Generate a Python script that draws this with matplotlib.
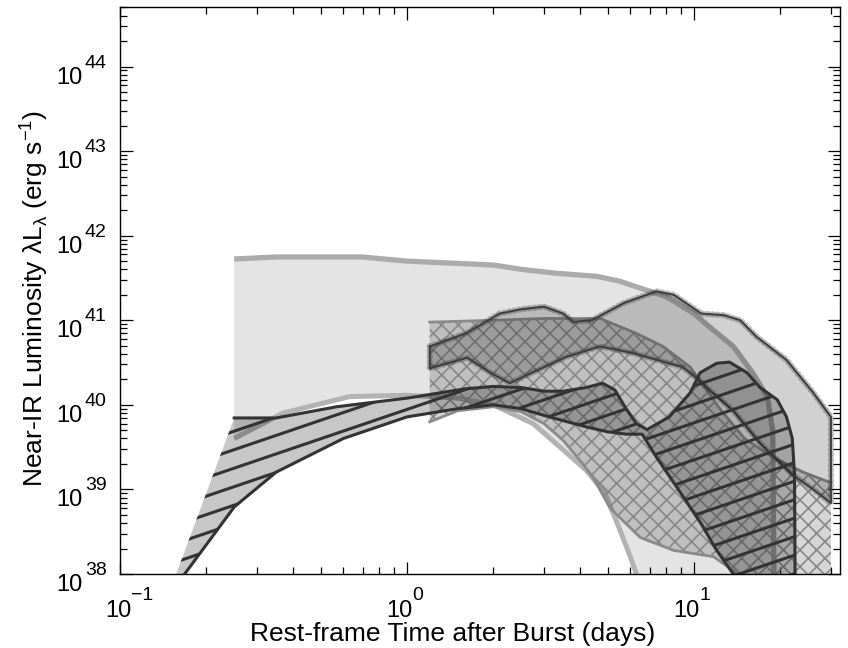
import numpy as np
import matplotlib
matplotlib.use("Agg")
import matplotlib.pyplot as plt
from matplotlib.patches import Polygon
from matplotlib.ticker import FixedLocator, LogLocator, NullFormatter

plt.rcParams['font.family'] = ['Liberation Sans', 'DejaVu Sans']
plt.rcParams['hatch.linewidth'] = 1.2

# ---- light-curve envelopes (rest-frame days, erg/s) ----
# broad light envelope
a_top_t = [0.25, 0.35, 0.7, 1.0, 1.5, 2.0, 2.5, 3.3, 4.6, 5.5, 6.5, 8.0, 10.0, 11.3, 13.7, 16.0, 18.0, 18.8, 19.0]
a_top_l = [5.3e41, 5.6e41, 5.6e41, 5.0e41, 4.7e41, 4.5e41, 4.0e41, 3.6e41, 3.3e41, 2.9e41, 2.4e41, 1.9e41,
           1.2e41, 8.4e40, 4.9e40, 2.4e40, 1.25e40, 5e39, 1e38]
a_low_t = [0.25, 0.37, 0.63, 1.0, 1.5, 2.0, 2.75, 3.4, 4.2, 4.9, 5.4, 6.0, 6.3]
a_low_l = [4e39, 8e39, 1.25e40, 1.3e40, 1.2e40, 1e40, 6e39, 3.2e39, 1.7e39, 9e38, 4e38, 1.6e38, 1e38]

# cross-hatched envelope
c_top_t = [1.2, 2.0, 3.0, 4.7, 6.3, 7.8, 9.7, 12.3, 15.0, 18.8, 24.0, 30.0]
c_top_l = [9.5e40, 1.0e41, 1.05e41, 1.05e41, 7e40, 4.9e40, 2.8e40, 9e39, 4e39, 2.4e39, 1.6e39, 1.2e39]
c_low_t = [1.2, 1.5, 2.0, 2.5, 3.0, 3.5, 4.1, 4.5, 5.1, 6.5, 8.5, 11.7, 13.7, 14.2]
c_low_l = [6.3e39, 8.5e39, 9.5e39, 8.3e39, 6e39, 3.8e39, 2.0e39, 1.3e39, 6e38, 2.7e38, 1.9e38, 1.6e38, 1.1e38, 1e38]

# stippled band
b_up_t = [1.2, 1.62, 2.1, 2.5, 3.0, 3.5, 3.8, 4.4, 5.7, 7.4, 8.5, 10.6, 12.7, 14.5, 16.5, 21.0, 26.0, 30.0]
b_up_l = [4.9e40, 7.1e40, 1.2e41, 1.35e41, 1.45e41, 1.2e41, 9.6e40, 1.0e41, 1.6e41, 2.2e41, 2.0e41, 1.2e41,
          1.15e41, 1.0e41, 6.4e40, 3.4e40, 1.4e40, 7.2e39]
b_low_t = [1.2, 1.62, 1.95, 2.28, 2.8, 3.6, 4.7, 6.1, 9.1, 10.2, 11.3, 13.7, 17.0, 22.0, 26.0, 30.0]
b_low_l = [2.7e40, 3.6e40, 2.4e40, 1.8e40, 2.5e40, 3.7e40, 4.9e40, 4.1e40, 2.8e40, 2.1e40, 1.5e40, 8.5e39,
           3.5e39, 1.5e39, 1.0e39, 6.9e38]

# line-hatched envelope
d_top_t = [0.157, 0.25, 0.35, 0.57, 1.0, 1.6, 2.0, 2.5, 3.0, 3.5, 4.2, 4.8, 5.3, 5.8, 6.3, 6.86, 8.2, 9.7,
           10.5, 12.0, 13.3, 15.3, 17.0, 19.5, 21.0, 22.0, 22.4, 22.5]
d_top_l = [1e38, 7e39, 7e39, 9.5e39, 1.2e40, 1.55e40, 1.65e40, 1.6e40, 1.45e40, 1.45e40, 1.6e40, 1.8e40,
           1.5e40, 9e39, 6e39, 5.1e39, 7.2e39, 1.39e40, 2.4e40, 3.1e40, 3.2e40, 2.4e40, 1.6e40, 1.15e40,
           7.2e39, 4e39, 1.5e39, 1e38]
d_low_t = [0.168, 0.25, 0.35, 0.6, 1.0, 1.5, 2.0, 2.5, 3.0, 3.5, 4.2, 5.0, 5.8, 6.6, 7.4, 8.7, 10.6, 12.0, 13.7]
d_low_l = [1e38, 6.2e38, 1.6e39, 4e39, 7.2e39, 9e39, 1.0e40, 9e39, 7.5e39, 6.5e39, 5.5e39, 4.8e39, 4.5e39,
           4.5e39, 2.4e39, 1.07e39, 3.9e38, 1.9e38, 1e38]

x_ticks = [0.1, 1.0, 10.0]
x_exps = ['\u22121', '0', '1']
y_ticks = [1e38, 1e39, 1e40, 1e41, 1e42, 1e43, 1e44]
y_exps = ['38', '39', '40', '41', '42', '43', '44']

XMIN, XMAX = 0.1, 10 ** 1.507
YMIN, YMAX = 1e38, 10 ** 44.70
PX = 0.72  # points per pixel at 100 dpi
BASE_FS, EXP_FS = 17, 14

fig = plt.figure(figsize=(8.48, 6.48), dpi=100)
ax = fig.add_axes([0.1415, 0.1142, 0.8485, 0.8745])
ax.set_xscale('log')
ax.set_yscale('log')
ax.set_xlim(XMIN, XMAX)
ax.set_ylim(YMIN, YMAX)


def band(xt, yt, xb, yb):
    return list(zip(xt, yt)) + list(zip(xb[::-1], yb[::-1]))


# broad light envelope
poly_a = Polygon(band(a_top_t, a_top_l, a_low_t, a_low_l), closed=True,
                 facecolor='#e4e4e4', edgecolor='none', lw=0, zorder=1)
ax.add_patch(poly_a)
ax.plot(a_top_t, a_top_l, color='#ababab', lw=3.8, solid_capstyle='butt', zorder=2)
ax.plot(a_low_t, a_low_l, color='#b3b3b3', lw=3.6, solid_capstyle='butt', zorder=2)

# cross-hatched envelope
c_verts = band(c_top_t + [c_top_t[-1]], c_top_l + [YMIN], c_low_t, c_low_l)
ax.add_patch(Polygon(c_verts, closed=True, facecolor=(0, 0, 0, 0.16), edgecolor='none', lw=0, zorder=3))
ax.add_patch(Polygon(c_verts, closed=True, facecolor='none', edgecolor='#878787', lw=0, hatch='xx', zorder=3.1))
ax.plot(c_top_t, c_top_l, color='#8a8a8a', lw=2.0, zorder=3.2)
ax.plot(c_low_t, c_low_l, color='#8a8a8a', lw=2.0, zorder=3.2)

# stippled band
b_verts = band(b_up_t, b_up_l, b_low_t, b_low_l)
ax.add_patch(Polygon(b_verts, closed=True, facecolor=(0, 0, 0, 0.18), edgecolor='none', lw=0, zorder=4))
bx = [v[0] for v in b_verts] + [b_verts[0][0]]
by = [v[1] for v in b_verts] + [b_verts[0][1]]
ax.plot(bx, by, color='#3c3c3c', lw=4.5, alpha=0.35, ls=(0, (0.12, 0.7)), dash_capstyle='round', zorder=4.4)
ax.plot(bx, by, color='#3c3c3c', lw=1.4, zorder=4.5)

# line-hatched envelope
d_verts = band(d_top_t, d_top_l, d_low_t, d_low_l)
poly_d = Polygon(d_verts, closed=True, facecolor=(0, 0, 0, 0.22), edgecolor='none', lw=0, zorder=5)
ax.add_patch(poly_d)
slope = 0.34 * (0.8485 * 848) / (0.8745 * 648)
step = 18.5 / (0.8745 * 648)
for y0 in np.arange(-0.6, 1.05, step):
    ln, = ax.plot([0, 1], [y0, y0 + slope], transform=ax.transAxes, color='#333333', lw=2.2, zorder=5.1)
    ln.set_clip_path(poly_d)
ax.plot(d_top_t[1:], d_top_l[1:], color='#333333', lw=2.2, zorder=5.2)
ax.plot(d_low_t, d_low_l, color='#333333', lw=2.2, zorder=5.2)

# axes and ticks
ax.xaxis.set_major_locator(FixedLocator(x_ticks))
ax.yaxis.set_major_locator(FixedLocator(y_ticks))
ax.xaxis.set_major_formatter(NullFormatter())
ax.yaxis.set_major_formatter(NullFormatter())
ax.xaxis.set_minor_locator(LogLocator(base=10, subs=np.arange(2, 10), numticks=20))
ax.yaxis.set_minor_locator(LogLocator(base=10, subs=np.arange(2, 10), numticks=20))
ax.xaxis.set_minor_formatter(NullFormatter())
ax.yaxis.set_minor_formatter(NullFormatter())
ax.tick_params(which='both', direction='in', top=True, right=True, colors='black')
ax.tick_params(which='major', length=9, width=0.9)
ax.tick_params(which='minor', length=5, width=0.9)
for sp in ax.spines.values():
    sp.set_linewidth(1.0)
    sp.set_zorder(10)

# power-of-ten tick labels: "10" with a raised exponent
for v, e in zip(y_ticks, y_exps):
    ax.annotate('10', xy=(0, v), xycoords=('axes fraction', 'data'), xytext=(-37 * PX, -17 * PX),
                textcoords='offset points', ha='right', va='baseline', fontsize=BASE_FS)
    ax.annotate(e, xy=(0, v), xycoords=('axes fraction', 'data'), xytext=(-35 * PX, -1 * PX),
                textcoords='offset points', ha='left', va='baseline', fontsize=EXP_FS)

fig.canvas.draw()
renderer = fig.canvas.get_renderer()
for v, e in zip(x_ticks, x_exps):
    probe = fig.text(0, 0, e, fontsize=EXP_FS)
    w_exp = probe.get_window_extent(renderer).width
    probe.remove()
    half = w_exp / 2.0
    ax.annotate('10', xy=(v, 0), xycoords=('data', 'axes fraction'), xytext=(half * PX, -43 * PX),
                textcoords='offset points', ha='right', va='baseline', fontsize=BASE_FS)
    ax.annotate(e, xy=(v, 0), xycoords=('data', 'axes fraction'), xytext=(half * PX, -26 * PX),
                textcoords='offset points', ha='left', va='baseline', fontsize=EXP_FS)

fig.text(453 / 848, 7 / 648, 'Rest-frame Time after Burst (days)', fontsize=19,
         ha='center', va='baseline')
fig.text(43 / 848, 1 - 298 / 648, r'Near-IR Luminosity λL$_\mathregular{λ}$ (erg s$^\mathregular{-1}$)',
         fontsize=19, rotation=90, rotation_mode='anchor', ha='center', va='baseline')

fig.savefig('out.png', dpi=100)
